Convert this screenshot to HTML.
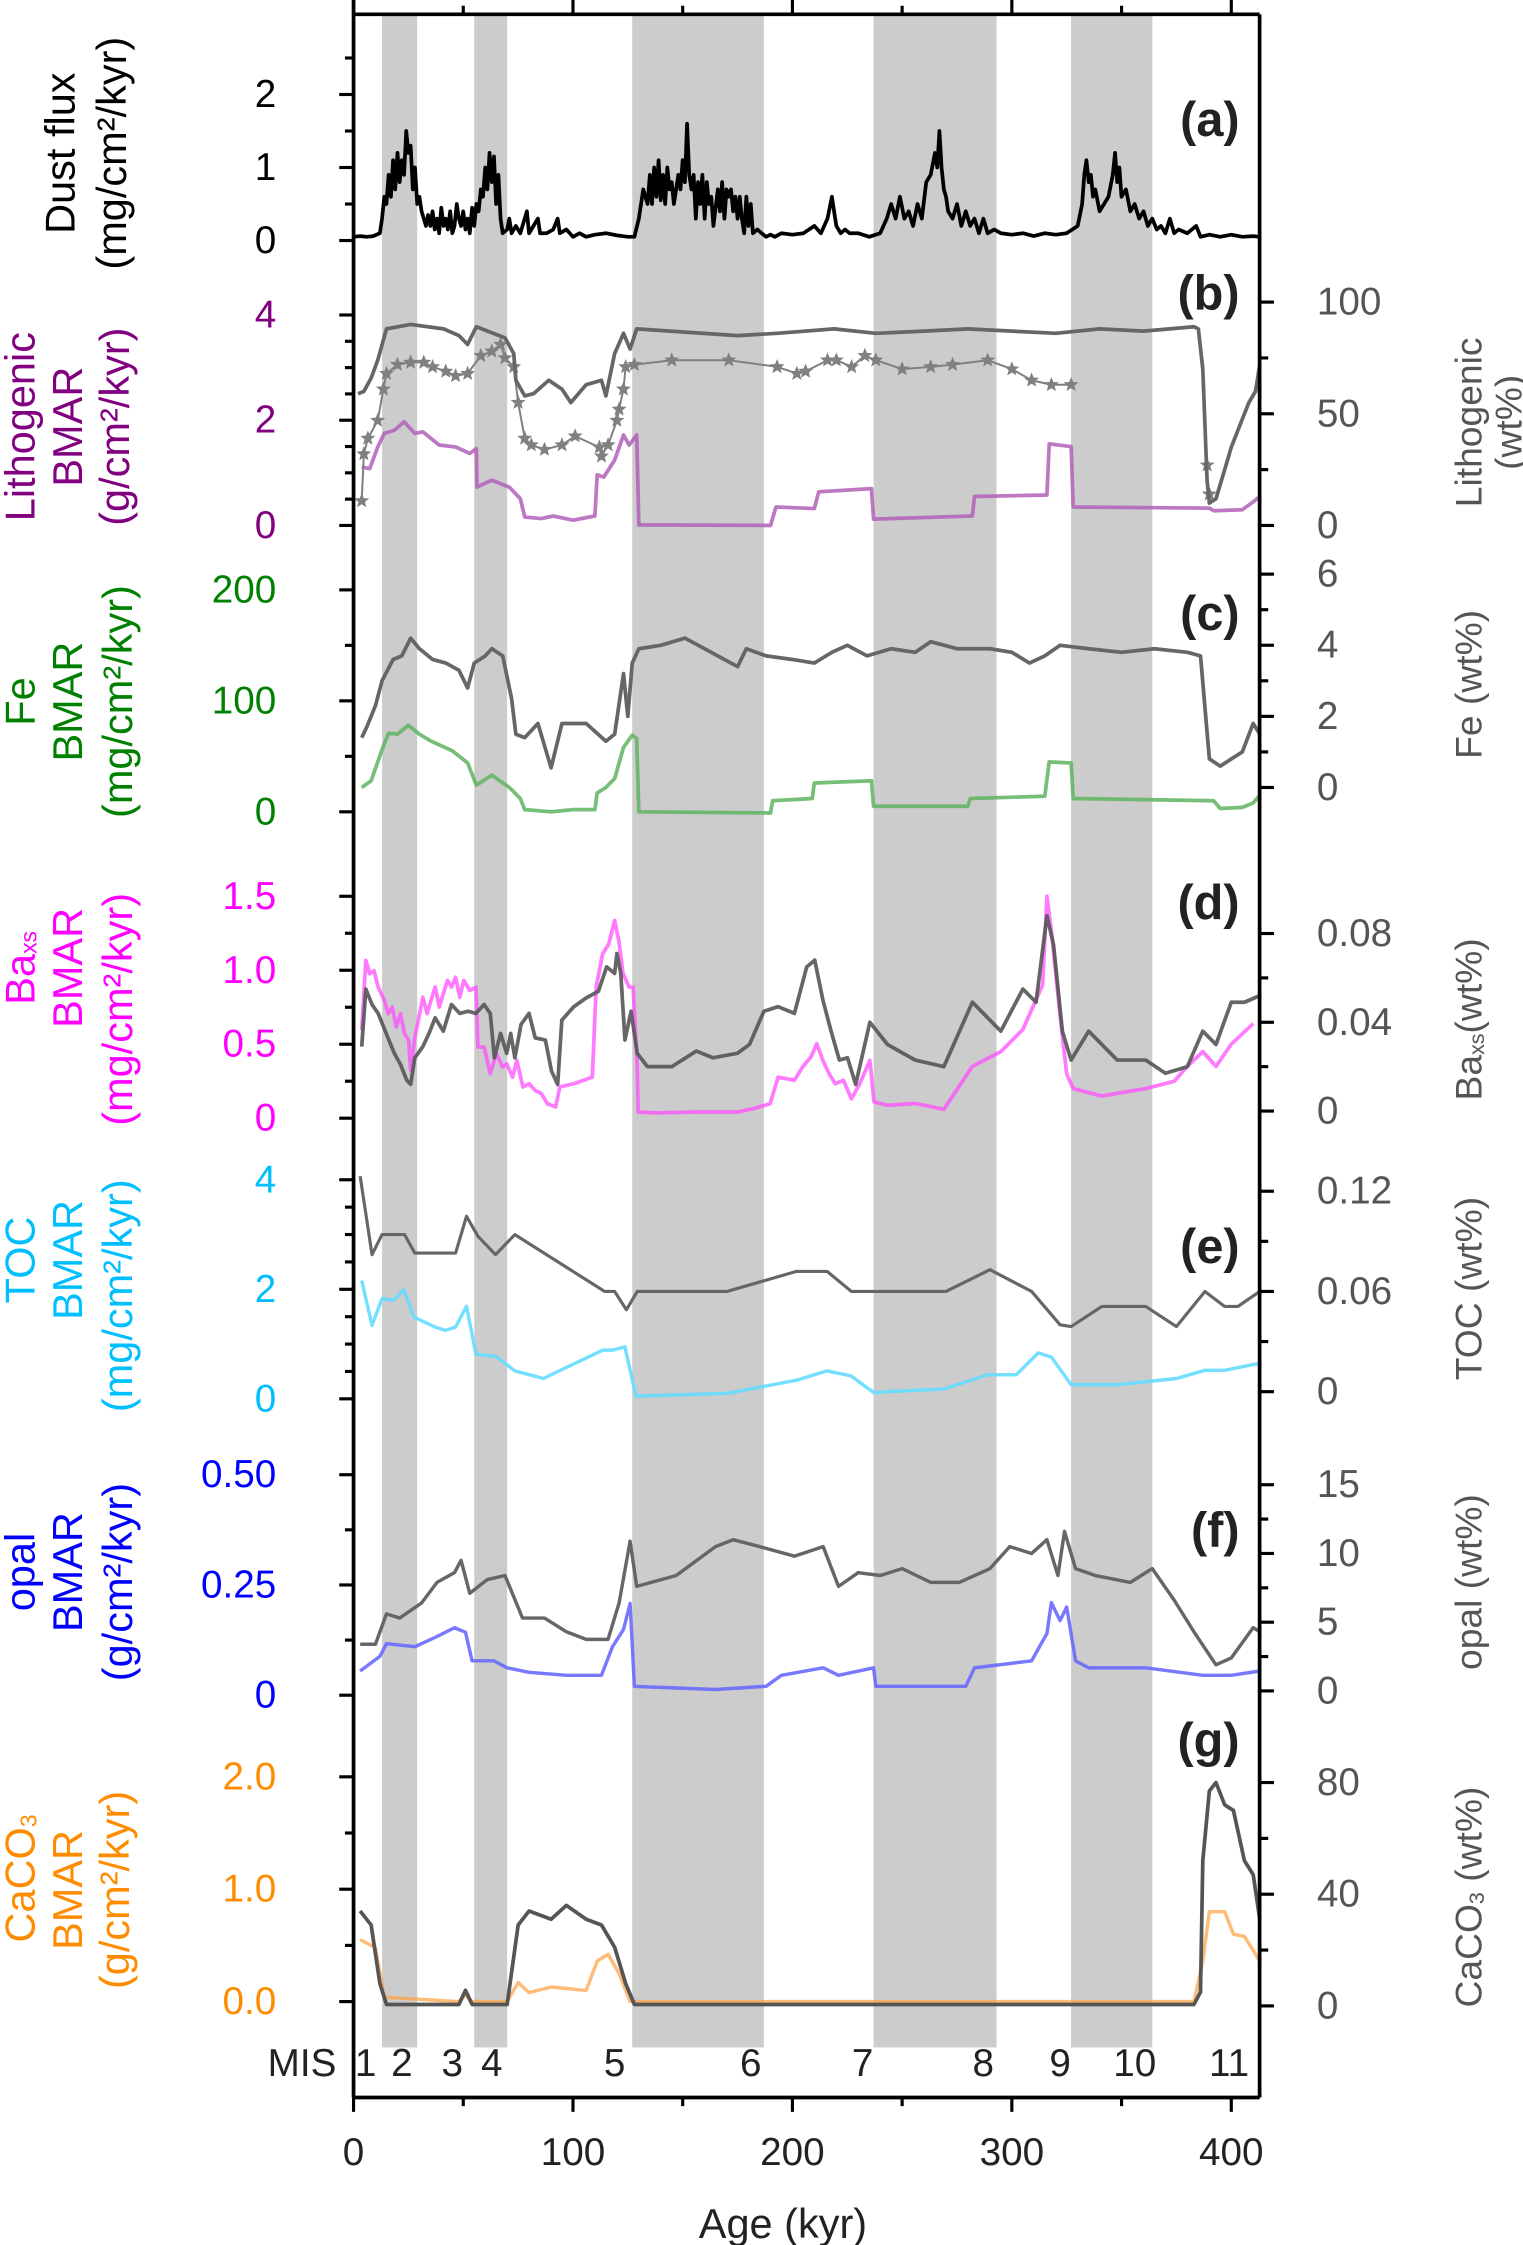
<!DOCTYPE html>
<html><head><meta charset="utf-8"><title>Core records vs age</title>
<style>
html,body{margin:0;padding:0;background:#fff;}
svg{display:block;font-family:"Liberation Sans",Arial,sans-serif;}
</style></head>
<body>
<svg id="chart" xmlns="http://www.w3.org/2000/svg" width="1523" height="2245" viewBox="0 0 1064 1568" preserveAspectRatio="none">
<g id="bands"></g>
<g id="series"></g>
<g id="axes"></g>
<g id="labels">
  <text transform="translate(42,107) rotate(-90)" text-anchor="middle" dominant-baseline="central" font-size="29" fill="#000">Dust flux</text>
  <text transform="translate(78,107) rotate(-90)" text-anchor="middle" dominant-baseline="central" font-size="29" fill="#000">(mg/cm²/kyr)</text>

  <text transform="translate(14,298) rotate(-90)" text-anchor="middle" dominant-baseline="central" font-size="29" fill="#800080">Lithogenic</text>
  <text transform="translate(47,298) rotate(-90)" text-anchor="middle" dominant-baseline="central" font-size="29" fill="#800080">BMAR</text>
  <text transform="translate(80,298) rotate(-90)" text-anchor="middle" dominant-baseline="central" font-size="29" fill="#800080">(g/cm²/kyr)</text>

  <text transform="translate(14,490) rotate(-90)" text-anchor="middle" dominant-baseline="central" font-size="29" fill="#008000">Fe</text>
  <text transform="translate(47,490) rotate(-90)" text-anchor="middle" dominant-baseline="central" font-size="29" fill="#008000">BMAR</text>
  <text transform="translate(82,490) rotate(-90)" text-anchor="middle" dominant-baseline="central" font-size="29" fill="#008000">(mg/cm²/kyr)</text>

  <text transform="translate(14,676) rotate(-90)" text-anchor="middle" dominant-baseline="central" font-size="29" fill="#ff00ff">Ba<tspan font-size="16" dy="6">xs</tspan></text>
  <text transform="translate(47,676) rotate(-90)" text-anchor="middle" dominant-baseline="central" font-size="29" fill="#ff00ff">BMAR</text>
  <text transform="translate(82,705) rotate(-90)" text-anchor="middle" dominant-baseline="central" font-size="29" fill="#ff00ff">(mg/cm²/kyr)</text>

  <text transform="translate(14,880) rotate(-90)" text-anchor="middle" dominant-baseline="central" font-size="29" fill="#00bfff">TOC</text>
  <text transform="translate(47,880) rotate(-90)" text-anchor="middle" dominant-baseline="central" font-size="29" fill="#00bfff">BMAR</text>
  <text transform="translate(82,905) rotate(-90)" text-anchor="middle" dominant-baseline="central" font-size="29" fill="#00bfff">(mg/cm²/kyr)</text>

  <text transform="translate(14,1098) rotate(-90)" text-anchor="middle" dominant-baseline="central" font-size="29" fill="#0000ff">opal</text>
  <text transform="translate(47,1098) rotate(-90)" text-anchor="middle" dominant-baseline="central" font-size="29" fill="#0000ff">BMAR</text>
  <text transform="translate(82,1105) rotate(-90)" text-anchor="middle" dominant-baseline="central" font-size="29" fill="#0000ff">(g/cm²/kyr)</text>

  <text transform="translate(14,1312) rotate(-90)" text-anchor="middle" dominant-baseline="central" font-size="29" fill="#ff8c00">CaCO<tspan font-size="16" dy="6">3</tspan></text>
  <text transform="translate(47,1320) rotate(-90)" text-anchor="middle" dominant-baseline="central" font-size="29" fill="#ff8c00">BMAR</text>
  <text transform="translate(80,1320) rotate(-90)" text-anchor="middle" dominant-baseline="central" font-size="29" fill="#ff8c00">(g/cm²/kyr)</text>

  <text transform="translate(1026,295) rotate(-90)" text-anchor="middle" dominant-baseline="central" font-size="26" fill="#555">Lithogenic</text>
  <text transform="translate(1054,295) rotate(-90)" text-anchor="middle" dominant-baseline="central" font-size="26" fill="#555">(wt%)</text>
  <text transform="translate(1026,478) rotate(-90)" text-anchor="middle" dominant-baseline="central" font-size="26" fill="#555">Fe (wt%)</text>
  <text transform="translate(1026,712) rotate(-90)" text-anchor="middle" dominant-baseline="central" font-size="26" fill="#555">Ba<tspan font-size="15" dy="6">xs</tspan><tspan dy="-6">(wt%)</tspan></text>
  <text transform="translate(1026,900) rotate(-90)" text-anchor="middle" dominant-baseline="central" font-size="26" fill="#555">TOC (wt%)</text>
  <text transform="translate(1026,1105) rotate(-90)" text-anchor="middle" dominant-baseline="central" font-size="26" fill="#555">opal (wt%)</text>
  <text transform="translate(1026,1325) rotate(-90)" text-anchor="middle" dominant-baseline="central" font-size="26" fill="#555">CaCO<tspan font-size="15" dy="6">3</tspan><tspan dy="-6"> (wt%)</tspan></text>

  <text x="866" y="95" text-anchor="end" font-size="34" font-weight="bold" fill="#222">(a)</text>
  <text x="866" y="216" text-anchor="end" font-size="34" font-weight="bold" fill="#222">(b)</text>
  <text x="866" y="440" text-anchor="end" font-size="34" font-weight="bold" fill="#222">(c)</text>
  <text x="866" y="642" text-anchor="end" font-size="34" font-weight="bold" fill="#222">(d)</text>
  <text x="866" y="882" text-anchor="end" font-size="34" font-weight="bold" fill="#222">(e)</text>
  <text x="866" y="1080" text-anchor="end" font-size="34" font-weight="bold" fill="#222">(f)</text>
  <text x="866" y="1227" text-anchor="end" font-size="34" font-weight="bold" fill="#222">(g)</text>

  <text x="547" y="1563" text-anchor="middle" font-size="29" fill="#222">Age (kyr)</text>
  <text x="211" y="1450" text-anchor="middle" font-size="27" fill="#222">MIS</text>
</g>
</svg>
<script>
// ---------- data ----------
const misStages = ["1","2","3","4","5","6","7","8","9","10","11"];
const misCenters = [5.5,22,45,63,119,181,232,287,322,356,399];
const glacialStart = [13,55,127,237,327];
const glacialEnd = [29,70,187,293,364];
const xTicks = [0,100,200,300,400];

const dustAge = [0,3,6,9,12,13,14,15,16,17,18,19,20,21,22,23,24,25,26,27,28,29,30,31,32,33,34,35,36,37,38,39,40,41,42,43,44,45,46,47,48,49,50,51,52,53,54,55,56,57,58,59,60,61,62,63,64,65,66,67,68,70,71,72,74,76,79,80,84,85,88,91,93,94,97,100,103,106,110,115,120,125,128,130,132,134,135,136,137,138,139,140,141,142,143,144,145,146,148,149,150,151,152,153,154,155,156,157,158,159,160,161,162,163,164,166,167,168,169,170,171,172,173,174,175,176,177,178,179,180,181,182,184,186,188,190,192,195,200,205,210,213,216,218,219,220,222,224,226,230,235,240,243,245,247,249,251,253,255,257,259,261,263,265,266,267,268,269,270,271,273,275,277,279,281,283,285,287,289,292,295,300,305,310,315,320,325,330,332,333,334,335,336,337,338,340,342,344,346,347,348,349,350,352,354,356,358,360,362,364,366,368,370,372,374,376,380,384,386,390,395,400,405,410,413];
const dustVal = [0.05,0.06,0.05,0.06,0.1,0.3,0.6,0.5,0.9,0.6,1.1,0.7,1.2,0.8,1.1,0.9,1.5,1.2,1.3,0.7,1.0,0.5,0.6,0.4,0.3,0.2,0.35,0.2,0.4,0.15,0.3,0.1,0.45,0.2,0.3,0.15,0.4,0.1,0.2,0.5,0.3,0.2,0.4,0.15,0.3,0.1,0.45,0.2,0.5,0.4,0.7,0.6,1.0,0.7,1.2,0.8,1.15,0.5,0.9,0.3,0.1,0.15,0.3,0.1,0.2,0.1,0.4,0.1,0.3,0.1,0.1,0.15,0.3,0.1,0.15,0.05,0.1,0.05,0.08,0.1,0.07,0.05,0.05,0.3,0.7,0.5,0.9,0.5,1.0,0.6,1.1,0.55,0.9,0.5,1.0,0.7,0.8,0.5,0.9,0.7,1.1,0.8,1.6,0.9,0.7,0.9,0.3,0.8,0.5,0.9,0.3,0.8,0.5,0.6,0.2,0.7,0.4,0.8,0.3,0.7,0.6,0.7,0.4,0.6,0.3,0.6,0.3,0.1,0.6,0.2,0.5,0.1,0.15,0.1,0.05,0.08,0.05,0.1,0.08,0.1,0.2,0.1,0.3,0.6,0.4,0.2,0.1,0.15,0.1,0.1,0.05,0.1,0.3,0.5,0.3,0.6,0.3,0.4,0.2,0.5,0.3,0.8,0.9,1.2,1.0,1.5,1.0,0.7,0.6,0.4,0.3,0.5,0.2,0.4,0.2,0.3,0.1,0.3,0.1,0.15,0.1,0.08,0.1,0.06,0.1,0.08,0.1,0.2,0.5,0.9,1.1,0.8,0.9,0.6,0.7,0.4,0.5,0.6,0.9,1.2,0.8,1.0,0.6,0.7,0.4,0.5,0.3,0.4,0.2,0.3,0.15,0.2,0.1,0.3,0.1,0.15,0.1,0.2,0.05,0.08,0.05,0.08,0.05,0.06,0.05];

const lithoWtAge = [2,4.7,8,11,15,26,41,48,52,56,69,73,74,78,82,89,95,99,106,113,115,119,123,126,129,175,193,219,238,260,280,300,320,340,360,383,385,387,389,390,393,397,400,404,408,411,413];
const lithoWtVal = [59,60,66,74,88,90,88,85,81,89,84,77,65,58,59,65,61,55,63,65,58,77,86,79,88,85,86,88,86,87,88,87,86,88,87,89,88,70,20,10,12,25,35,45,55,60,72];
const starAge = [3.7,4.7,6.5,11,13.6,15,20,26,32,36,42,46.5,52,58,63,67,69,73,75,78,81,87,95,101,112,113,116,120,121,123,124,128,145,171,193,202,206,216,220,227,233,238,250,263,273,289,300,309,318,327];
const starVal = [11,32,39,47,61,68,72,73,73,71,69,67,68,76,78,81,75,71,55,39,36,34,36,40,35,31,36,47,52,61,71,72,74,74,71,68,69,74,74,71,76,74,70,71,72,74,70,65,63,63];
const starAge2 = [389,390];
const starVal2 = [27,14];
const lithoBmarAge = [3.7,7.4,11,14,18.6,23,28,31.6,39,46.5,53,56,56.2,63,71,76,78,85.6,91,100,110,111,114,119,123,125.6,129,130,190,192.5,210,212,236,237,282,283,316,317,327,328,390,392,405,410,413];
const lithoBmarVal = [1.11,1.08,1.49,1.75,1.81,1.97,1.75,1.78,1.53,1.49,1.37,1.46,0.73,0.86,0.73,0.51,0.16,0.13,0.18,0.10,0.18,0.96,0.92,1.24,1.72,1.53,1.72,0.01,0.0,0.35,0.32,0.64,0.70,0.12,0.18,0.55,0.58,1.55,1.5,0.35,0.33,0.28,0.3,0.45,0.55];

const feWtAge = [3.7,6,10,13,18,22,26,30,36,42,48,52,55,60,63,68,72,74,78,84,90,95,106,115,119,123,125,127,130,140,151,160,169,175,179,188,200,210,218,225,234,245,256,263,275,290,300,308,315,322,335,350,365,380,386,390,395,400,405,410,413];
const feWtVal = [1.4,1.7,2.3,3.0,3.6,3.7,4.2,3.9,3.6,3.5,3.3,2.8,3.5,3.7,3.9,3.7,2.5,1.5,1.4,1.8,0.55,1.8,1.8,1.3,1.5,3.2,2.0,3.5,3.9,4.0,4.2,3.9,3.6,3.4,3.9,3.7,3.6,3.5,3.8,4.0,3.7,3.9,3.8,4.1,3.9,3.9,3.8,3.5,3.7,4.0,3.9,3.8,3.9,3.8,3.7,0.8,0.6,0.8,1.0,1.8,1.5];
const feBmarAge = [3.7,8,13,16,20,25,30,35,45,52,56,63,71,76,78,90,100,110,111,115,119,123,127,129,130,190,191,209,210,236,237,280,281,315,317,327,328,392,395,405,410,413];
const feBmarVal = [22,28,56,71,70,78,70,64,55,44,24,33,22,12,2,0,2,2,17,22,30,58,69,66,0,-1,10,12,26,28,5,5,12,14,45,44,12,10,3,4,8,15];

const baWtAge = [3.7,5.6,8.4,11.2,14.9,18.6,21.4,24.2,26,27.9,31.6,34.4,37.2,40.9,44.6,48.4,52.1,55.8,59.5,62.3,64.2,67,69.8,71.6,73.5,76.3,80,82.8,87.4,90.2,93,94.9,100.4,106,111.6,115.3,119,120,121.8,123.7,126.5,129.3,133.9,145,156.2,163.7,174.9,180.4,187,193.5,200.9,206.5,210.2,213.9,217.6,221.4,225.1,228.8,235.3,243.3,256,269,282,295,305,311,316,319,323,327,335,348,361,370,380,387,393,400,406,413];
const baWtVal = [0.029,0.055,0.048,0.044,0.035,0.026,0.021,0.014,0.012,0.024,0.029,0.035,0.042,0.036,0.048,0.044,0.045,0.044,0.048,0.044,0.024,0.035,0.026,0.035,0.024,0.039,0.044,0.033,0.032,0.018,0.012,0.041,0.047,0.051,0.054,0.065,0.062,0.071,0.062,0.032,0.045,0.026,0.020,0.020,0.027,0.024,0.026,0.030,0.045,0.047,0.044,0.065,0.068,0.050,0.036,0.023,0.024,0.012,0.040,0.030,0.023,0.020,0.049,0.036,0.055,0.049,0.088,0.075,0.036,0.023,0.036,0.023,0.023,0.017,0.020,0.036,0.030,0.049,0.049,0.052];
const baBmarAge = [3.7,5.6,7.4,9.3,11.2,14,15.8,17.7,19.5,21.4,23.2,25.1,26,27.9,29.8,31.6,33.5,35.3,37.2,39.1,40.9,42.8,44.6,46.5,48.4,50.2,53,55.8,56.7,59.5,62.3,65.1,67.9,69.8,72.5,74.4,77.2,80,82.8,85.6,88.4,92.1,94,100.4,108.8,110.6,113.5,116.3,119,120.9,122.8,125.6,127.4,129.3,129.7,137.7,156.3,174.9,182.3,189.8,193.5,200.9,204.6,208.4,211.1,213.9,216.7,219.5,223.2,226.9,230.7,235.3,237.2,243.3,256,269,282,295,305,314,316,318,322,325,328,341,361,374,380,387,393,400,410];
const baBmarVal = [0.594,1.066,0.976,0.998,0.886,0.796,0.706,0.751,0.616,0.706,0.571,0.526,0.323,0.548,0.684,0.818,0.706,0.796,0.886,0.751,0.841,0.931,0.886,0.953,0.818,0.931,0.863,0.886,0.481,0.481,0.301,0.436,0.346,0.368,0.278,0.391,0.211,0.233,0.188,0.166,0.098,0.076,0.211,0.233,0.278,0.886,1.111,1.178,1.336,1.201,0.976,0.886,0.886,0.346,0.042,0.036,0.042,0.042,0.065,0.098,0.278,0.256,0.346,0.413,0.503,0.391,0.301,0.233,0.256,0.132,0.233,0.391,0.11,0.087,0.1,0.06,0.35,0.45,0.6,0.9,1.5,1.27,0.69,0.3,0.2,0.15,0.2,0.25,0.35,0.45,0.35,0.5,0.64];

const tocWtAge = [3,8.4,13,23.3,27.9,46.5,51.5,56.7,64.7,73.5,114.4,119,124.3,129.3,170.2,201.8,215.8,226.9,270,290,309,322,327,341,361,375,388,397,403,413];
const tocWtVal = [0.129,0.082,0.094,0.094,0.083,0.083,0.105,0.093,0.082,0.094,0.060,0.060,0.049,0.060,0.060,0.072,0.072,0.060,0.060,0.073,0.060,0.040,0.039,0.051,0.051,0.039,0.060,0.051,0.051,0.060];
const tocBmarAge = [3.7,8.4,13,18.2,22.9,27.5,37.2,41.9,46.5,51.5,55.8,64.7,73.5,86.5,113.5,118.1,123.7,128.7,170.2,201.8,215.8,226.6,237.2,243.3,269,289,302,312,318,327,348,375,388,397,413];
const tocBmarVal = [2.16,1.34,1.83,1.80,1.99,1.49,1.31,1.25,1.31,1.69,0.81,0.78,0.51,0.37,0.89,0.89,0.95,0.05,0.10,0.34,0.51,0.42,0.11,0.13,0.18,0.44,0.44,0.84,0.76,0.26,0.26,0.37,0.52,0.52,0.65];

const opalWtAge = [3,10,15,21,31,38,46,49,53,61,69,77,87,97,106,116,121,126,129,147,165,173,185,201,214,221,230,240,250,263,276,290,299,309,316,321,324,329,338,354,364,374,383,393,400,410,413];
const opalWtVal = [3.4,3.4,5.6,5.3,6.4,7.9,8.6,9.5,7.1,8.1,8.4,5.3,5.3,4.3,3.75,3.75,6.4,10.9,7.6,8.4,10.5,11,10.5,9.8,10.5,7.6,8.6,8.4,8.9,7.9,7.9,8.9,10.5,10,11,8.4,11.6,8.9,8.4,7.9,8.9,6.6,4.3,1.9,2.4,4.6,4.3];
const opalBmarAge = [3,12,15,28,38,46,51,54,64,70,80,97,113,118,123,126,128,165,188,195,214,221,237,238,279,283,309,316,318,322,325,329,335,361,387,400,413];
const opalBmarVal = [0.055,0.088,0.117,0.11,0.133,0.153,0.143,0.078,0.078,0.062,0.052,0.045,0.045,0.11,0.149,0.208,0.02,0.013,0.02,0.045,0.062,0.045,0.062,0.02,0.02,0.062,0.078,0.14,0.21,0.169,0.2,0.078,0.062,0.062,0.045,0.045,0.055];

const caco3WtAge = [3,8,12,15,48,51,54,70,75,80,90,97,106,113,119,124,128,383,386,387,390,393,397,401,406,410,413];
const caco3WtVal = [34,29,8,0.5,0.5,5.6,0.5,0.5,29,34,31,36,31,29,21,8,0.5,0.5,5,52,77,80,72,70,52,47,31];
const caco3BmarAge = [3,10,14,48,51,54,70,75,80,90,106,111,116,121,126,383,387,390,397,401,406,413];
const caco3BmarVal = [0.55,0.48,0.04,0.0,0.06,0.0,0.0,0.17,0.08,0.13,0.1,0.36,0.42,0.25,0.0,0.0,0.36,0.8,0.8,0.6,0.58,0.36];

// ---------- helpers ----------
const NS = "http://www.w3.org/2000/svg";
const X0 = 247, X1 = 880, YTOP = 10, YBOT = 1465;
function sx(a){ return X0 + a * 1.533; }
function lin(v0, p0, v1, p1){ return v => p0 + (v - v0) * (p1 - p0) / (v1 - v0); }
function mk(tag, attrs, parent){
  const e = document.createElementNS(NS, tag);
  for (const k in attrs) e.setAttribute(k, attrs[k]);
  parent.appendChild(e);
  return e;
}
const gBands = document.getElementById('bands');
const gSeries = document.getElementById('series');
const gAxes = document.getElementById('axes');
const gLabels = document.getElementById('labels');

const yDust = lin(0,168,2,66);
const yLithoB = lin(0,367,4,220), yLithoW = lin(0,367,100,211);
const yFeB = lin(0,567,200,412), yFeW = lin(0,550,6,401);
const yBaB = lin(0,781,1.5,626), yBaW = lin(0,776,0.08,652);
const yTocB = lin(0,977,4,824), yTocW = lin(0,972,0.12,832);
const yOpalB = lin(0,1184,0.5,1030), yOpalW = lin(0,1181,15,1037);
const yCaB = lin(0,1398,2,1241), yCaW = lin(0,1401,80,1245);

for (let i = 0; i < glacialStart.length; i++){
  const r = mk('rect', {x: sx(glacialStart[i]), y: YTOP, width: sx(glacialEnd[i]) - sx(glacialStart[i]), height: 1420, fill: '#cccccc'}, gBands);
  
  
}

function line(ages, vals, sy, color, w, name, op){
  let d = '';
  for (let i = 0; i < ages.length; i++) d += (i ? 'L' : 'M') + sx(ages[i]).toFixed(1) + ',' + sy(vals[i]).toFixed(1);
  const p = mk('path', {d: d, fill: 'none', stroke: color, 'stroke-width': w, 'stroke-linejoin': 'round', opacity: op || 1}, gSeries);
  
  
  return p;
}
function stars(ages, vals, sy, name){
  for (let i = 0; i < ages.length; i++){
    const cx = sx(ages[i]), cy = sy(vals[i]);
    let d = '';
    for (let k = 0; k < 10; k++){
      const r = k % 2 ? 2.4 : 5.5, ang = -Math.PI / 2 + k * Math.PI / 5;
      d += (k ? 'L' : 'M') + (cx + r * Math.cos(ang)).toFixed(1) + ',' + (cy + r * Math.sin(ang)).toFixed(1);
    }
    const s = mk('path', {d: d + 'Z', fill: '#808080'}, gSeries);
    
    
  }
}

line(dustAge, dustVal, yDust, '#000', 2.6, 'dust-flux-line');
line(lithoBmarAge, lithoBmarVal, yLithoB, '#b060b8', 2.6, 'lithogenic-bmar-line', 0.85);
line(starAge, starVal, yLithoW, '#808080', 1.4, 'lithogenic-star-line');
stars(starAge, starVal, yLithoW, 'lithogenic-star');
stars(starAge2, starVal2, yLithoW, 'lithogenic-star-b');
line(lithoWtAge, lithoWtVal, yLithoW, '#666', 2.6, 'lithogenic-wt-line');
line(feBmarAge, feBmarVal, yFeB, '#5fb35f', 2.6, 'fe-bmar-line', 0.85);
line(feWtAge, feWtVal, yFeW, '#666', 2.6, 'fe-wt-line');
line(baBmarAge, baBmarVal, yBaB, '#ff4dff', 2.6, 'ba-bmar-line', 0.75);
line(baWtAge, baWtVal, yBaW, '#555', 2.6, 'ba-wt-line', 0.9);
line(tocWtAge, tocWtVal, yTocW, '#666', 2.2, 'toc-wt-line');
line(tocBmarAge, tocBmarVal, yTocB, '#66dcff', 2.4, 'toc-bmar-line', 0.9);
line(opalWtAge, opalWtVal, yOpalW, '#666', 2.4, 'opal-wt-line');
line(opalBmarAge, opalBmarVal, yOpalB, '#6a6aff', 2.4, 'opal-bmar-line', 0.9);
line(caco3BmarAge, caco3BmarVal, yCaB, '#ffa040', 2.4, 'caco3-bmar-line', 0.7);
line(caco3WtAge, caco3WtVal, yCaW, '#555', 2.6, 'caco3-wt-line');

const frameAttrs = {stroke: '#000', 'stroke-width': 2.6, fill: 'none'};
let f;
f = mk('line', Object.assign({x1: X0, y1: 0, x2: X0, y2: YBOT}, frameAttrs), gAxes);
 
f = mk('line', Object.assign({x1: X1, y1: YTOP, x2: X1, y2: YBOT}, frameAttrs), gAxes);
 
f = mk('line', Object.assign({x1: X0, y1: YTOP, x2: X1, y2: YTOP}, frameAttrs), gAxes);
 
f = mk('line', Object.assign({x1: X0, y1: YBOT, x2: X1, y2: YBOT}, frameAttrs), gAxes);
 

for (let a = 0; a <= 410; a += 50){
  const major = a % 100 === 0, L = major ? 10 : 6;
  mk('line', {x1: sx(a), y1: YBOT, x2: sx(a), y2: YBOT + L, stroke: '#000', 'stroke-width': 2.2}, gAxes);
  mk('line', {x1: sx(a), y1: YTOP, x2: sx(a), y2: YTOP - L, stroke: '#000', 'stroke-width': 2.2}, gAxes);
}
for (let i = 0; i < xTicks.length; i++){
  const t = mk('text', {x: sx(xTicks[i]), y: 1512, 'text-anchor': 'middle', 'font-size': 27, fill: '#222'}, gLabels);
  t.textContent = xTicks[i];
  
  
}
for (let i = 0; i < misStages.length; i++){
  const t = mk('text', {x: sx(misCenters[i]), y: 1450, 'text-anchor': 'middle', 'font-size': 27, fill: '#222'}, gLabels);
  t.textContent = misStages[i];
  
  
}

function yAxis(sy, labels, minorStep, vmin, vmax, color, side, name){
  for (let v = vmin; v <= vmax + 1e-9; v += minorStep){
    const y = sy(v);
    const isMajor = labels.some(l => Math.abs(parseFloat(l) - v) < 1e-9);
    const L = isMajor ? 10 : 6;
    if (side === 'L') mk('line', {x1: X0 - L, y1: y, x2: X0, y2: y, stroke: '#000', 'stroke-width': 2.2}, gAxes);
    else mk('line', {x1: X1, y1: y, x2: X1 + L, y2: y, stroke: '#000', 'stroke-width': 2.2}, gAxes);
  }
  for (let i = 0; i < labels.length; i++){
    const t = mk('text', {x: side === 'L' ? 193 : 920, y: sy(parseFloat(labels[i])), 'text-anchor': side === 'L' ? 'end' : 'start', 'dominant-baseline': 'central', 'font-size': 27, fill: color}, gLabels);
    t.textContent = labels[i];
    
    
  }
}
const dustTicks = ["0","1","2"];
const lithoBTicks = ["0","2","4"], lithoWTicks = ["0","50","100"];
const feBTicks = ["0","100","200"], feWTicks = ["0","2","4","6"];
const baBTicks = ["0","0.5","1.0","1.5"], baWTicks = ["0","0.04","0.08"];
const tocBTicks = ["0","2","4"], tocWTicks = ["0","0.06","0.12"];
const opalBTicks = ["0","0.25","0.50"], opalWTicks = ["0","5","10","15"];
const caBTicks = ["0.0","1.0","2.0"], caWTicks = ["0","40","80"];
yAxis(yDust, dustTicks, 0.5, 0, 2.5, '#000', 'L', 'dust');
yAxis(yLithoB, lithoBTicks, 0.5, 0, 4, '#800080', 'L', 'litho-bmar');
yAxis(yLithoW, lithoWTicks, 25, 0, 100, '#555', 'R', 'litho-wt');
yAxis(yFeB, feBTicks, 50, 0, 200, '#008000', 'L', 'fe-bmar');
yAxis(yFeW, feWTicks, 1, 0, 6, '#555', 'R', 'fe-wt');
yAxis(yBaB, baBTicks, 0.25, 0, 1.5, '#ff00ff', 'L', 'ba-bmar');
yAxis(yBaW, baWTicks, 0.02, 0, 0.08, '#555', 'R', 'ba-wt');
yAxis(yTocB, tocBTicks, 0.5, 0, 4, '#00bfff', 'L', 'toc-bmar');
yAxis(yTocW, tocWTicks, 0.03, 0, 0.12, '#555', 'R', 'toc-wt');
yAxis(yOpalB, opalBTicks, 0.125, 0, 0.5, '#0000ff', 'L', 'opal-bmar');
yAxis(yOpalW, opalWTicks, 2.5, 0, 15, '#555', 'R', 'opal-wt');
yAxis(yCaB, caBTicks, 0.5, 0, 2, '#ff8c00', 'L', 'caco3-bmar');
yAxis(yCaW, caWTicks, 20, 0, 80, '#555', 'R', 'caco3-wt');
</script>
</body></html>
